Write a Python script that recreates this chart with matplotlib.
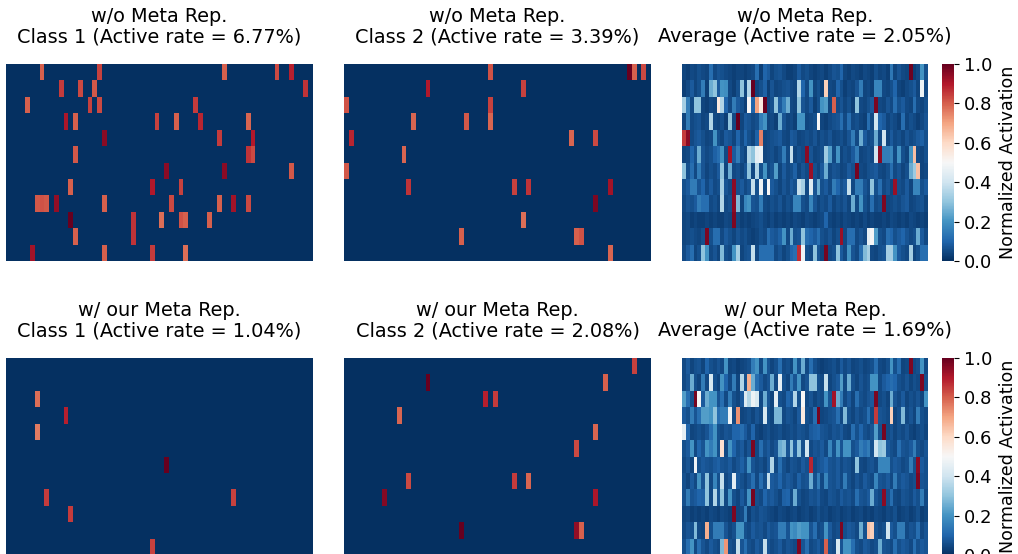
import numpy as np
import matplotlib
matplotlib.use('Agg')
import matplotlib.pyplot as plt
import seaborn as sns

n_rows = 12
n_cols = 64

titles_top = ['w/o Meta Rep.\nClass 1 (Active rate = 6.77%)',
              'w/o Meta Rep.\nClass 2 (Active rate = 3.39%)',
              'w/o Meta Rep.\nAverage (Active rate = 2.05%)']
titles_bot = ['w/ our Meta Rep.\nClass 1 (Active rate = 1.04%)',
              'w/ our Meta Rep.\nClass 2 (Active rate = 2.08%)',
              'w/ our Meta Rep.\nAverage (Active rate = 1.69%)']
cbar_label = 'Normalized Activation'
cbar_ticks = [0.0, 0.2, 0.4, 0.6, 0.8, 1.0]

# active cells only, everything else is 0
c1_top_rows = [0,0,0,0,0, 1,1,1,1, 2,2,2,2, 3,3,3,3,3,3, 4,4,4, 5,5,5, 6,6,6, 7,7,7,
               8,8,8,8,8,8,8,8,8, 9,9,9,9,9,9, 10,10, 11,11,11,11]
c1_top_cols = [7,19,45,56,59, 11,15,18,62, 4,17,19,39, 12,14,31,35,40,50, 20,44,51, 14,50,51, 33,45,59, 13,30,36,
               6,7,8,10,20,34,44,47,50, 13,26,32,36,37,42, 14,26, 5,20,30,37]
c1_top_vals = [.80,.84,.80,.83,.89, .85,.83,.81,.86, .80,.84,.83,.85, .91,.80,.84,.80,.88,.79, .95,.85,.90,
               .81,.86,.83, .95,.95,.81, .80,.90,.84,
               .81,.82,.81,.94,.80,.83,.80,.92,.83, 1.0,.86,.78,.82,.80,.80, .80,.86, .92,.80,.85,.78]

c2_top_rows = [0,0,0,0, 1,1, 2,2, 3,3,3, 4,4,4, 5, 6, 7,7,7,7, 8, 9, 10,10,10, 11]
c2_top_cols = [30,59,60,62, 17,37, 0,30, 14,25,30, 1,47,52, 12, 0, 13,35,38,55, 52, 37, 24,48,49, 55]
c2_top_vals = [.82,1.0,.80,.83, .90,.84, .82,.84, .79,.81,.79, .88,.79,.83, .79, .81,
               .86,.84,.86,.92, .97, .78, .80,.80,.82, .79]

c1_bot_rows = [2,3,4,6,8,8,9,11]
c1_bot_cols = [6,12,6,33,8,47,13,30]
c1_bot_vals = [.78,.89,.76,1.0,.85,.84,.85,.84]

c2_bot_rows = [0, 1,1, 2,2, 3, 4, 5, 7,7,7, 8,8, 10,10,10]
c2_bot_cols = [60, 17,54, 29,31, 11, 52, 48, 13,35,38, 8,52, 24,48,49]
c2_bot_vals = [.84, 1.0,.80, .89,.85, .79, .79, .83, .83,.85,.79, .96,.91, 1.0,.94,.80]

# average panels, percent of the colour range
avg_top = [
    [4,3,5,4,6,5,4,12,5,7,6,5,4,3,4,4,3,4,5,12,3,10,8,4,6,7,5,3,3,4,8,5,
     6,4,3,4,5,3,5,7,6,10,4,3,5,4,3,5,4,3,6,4,5,3,14,4,7,5,4,99,3,5,20,6],
    [3,5,8,4,6,15,3,25,30,8,20,19,5,3,6,30,4,35,100,4,6,9,3,7,4,5,6,7,5,4,35,10,
     5,20,4,6,3,62,5,4,10,6,3,5,4,7,15,4,5,3,17,17,5,4,6,10,4,3,5,6,8,4,47,5],
    [33,15,5,30,30,4,3,5,4,55,35,10,5,15,8,6,3,50,10,70,55,100,4,6,30,8,15,25,5,4,30,7,
     5,8,3,6,20,22,4,80,5,7,4,6,3,30,5,4,6,8,97,5,4,7,5,12,6,8,5,4,12,5,4,6],
    [4,15,5,6,7,4,5,35,5,4,6,3,30,5,100,4,8,7,5,6,15,20,4,5,3,25,7,4,5,3,20,20,
     4,5,6,50,4,3,5,6,7,12,5,12,5,6,4,3,12,5,40,10,8,4,6,5,3,12,4,6,5,3,5,7],
    [85,95,5,7,8,6,4,5,20,6,4,8,7,4,10,5,10,6,4,9,75,4,5,6,7,8,5,4,8,7,4,5,
     6,5,7,4,6,5,7,4,5,6,4,7,15,5,25,8,5,6,25,5,40,4,8,5,6,4,7,5,6,8,9,6],
    [4,5,10,6,25,7,5,6,9,12,20,5,92,8,15,6,4,35,30,45,47,4,5,6,4,6,15,5,38,4,6,5,
     95,7,4,5,6,32,22,5,20,4,6,5,8,15,4,5,6,5,40,95,15,15,17,5,20,6,4,20,65,5,4,6],
    [30,6,12,5,15,7,4,6,5,8,30,4,25,5,6,4,7,30,5,35,6,20,5,7,22,4,8,5,6,9,4,7,
     5,93,6,4,8,25,5,7,6,4,5,8,6,98,5,4,6,7,8,5,4,6,12,5,7,4,6,25,32,65,4,5],
    [6,8,15,15,7,10,5,8,5,6,33,7,5,95,6,8,5,7,38,6,48,5,50,8,6,4,7,5,8,6,38,33,
     5,43,7,25,6,8,5,15,10,6,8,38,5,15,15,7,5,30,6,12,5,7,4,93,6,5,8,4,17,17,6,8],
    [5,7,6,8,15,12,12,5,6,4,35,5,6,95,28,4,17,20,7,6,15,5,4,6,5,7,4,6,5,17,17,6,
     5,17,7,4,6,5,8,4,6,5,7,4,25,5,20,6,4,12,5,6,97,4,5,6,5,7,8,4,5,6,7,4],
    [4,5,3,4,3,3,4,3,4,3,3,5,4,97,5,3,4,3,4,5,6,4,3,5,3,4,3,4,3,5,4,3,
     5,4,3,4,5,10,4,3,4,3,5,4,3,4,3,5,3,4,3,3,4,3,5,4,3,4,3,5,4,3,4,3],
    [4,5,6,5,4,6,97,6,12,12,5,8,6,4,7,5,6,4,3,4,6,5,12,8,7,9,20,5,25,6,7,30,
     12,10,8,12,6,5,7,4,6,93,5,12,12,5,7,5,45,50,22,6,5,12,10,6,8,10,7,5,6,25,8,5],
    [5,8,12,4,6,30,20,5,7,4,28,6,5,20,33,4,6,7,38,5,12,12,12,12,5,7,4,6,10,12,87,48,
     6,5,30,7,4,98,5,6,30,8,5,20,7,5,12,28,33,5,4,6,7,33,33,20,8,6,5,33,4,6,12,12],
]

avg_bot = [
    [5,8,4,6,7,4,10,6,5,7,5,20,4,5,3,4,5,6,15,20,5,20,7,4,6,12,5,6,4,20,6,25,
     5,12,6,4,3,4,5,6,4,8,5,7,4,5,6,4,5,6,12,5,4,6,20,6,12,4,5,97,5,6,20,5],
    [5,7,25,6,4,15,5,42,6,4,20,10,5,15,4,35,6,68,25,12,8,5,7,25,5,45,6,4,15,7,20,5,
     7,30,30,6,5,38,4,6,8,22,5,25,6,4,7,5,6,20,20,5,8,10,12,10,6,5,7,4,6,5,97,6],
    [22,12,6,98,50,8,25,20,20,7,12,5,15,6,4,8,43,35,47,42,5,25,7,4,45,6,5,10,8,35,6,50,
     5,7,4,6,5,20,7,92,25,15,5,8,4,12,6,5,7,8,97,5,6,4,25,7,5,8,4,6,5,7,4,20],
    [8,6,15,7,12,22,22,20,30,12,15,15,47,5,73,4,5,6,4,7,5,42,6,4,27,27,5,7,6,4,8,55,
     6,5,12,98,4,5,6,7,12,5,28,6,4,7,5,6,12,5,85,7,6,5,62,4,6,28,5,7,4,15,6,5],
    [45,10,4,5,6,5,7,12,20,6,5,7,6,10,10,12,8,5,10,4,3,5,6,4,5,6,4,5,6,5,7,6,
     5,8,9,10,7,6,5,7,6,8,5,4,12,6,10,6,5,7,22,6,98,5,7,4,6,5,7,4,3,5,6,4],
    [6,8,20,5,10,7,20,15,20,6,58,5,20,10,6,8,4,7,97,5,12,6,8,5,7,25,28,7,30,8,30,6,
     40,5,7,6,8,5,17,6,20,7,20,20,6,8,15,12,15,6,40,30,32,8,6,5,12,7,6,8,15,6,5,7],
    [5,7,4,48,6,8,7,6,8,9,7,6,8,5,7,9,6,20,7,5,6,4,8,35,5,12,6,4,7,6,5,8,
     6,88,5,7,8,10,7,6,8,5,7,6,4,30,5,4,6,7,5,17,17,17,6,8,7,5,6,15,6,95,8,6],
    [6,4,8,5,20,7,30,5,17,6,38,5,7,45,8,6,4,7,12,5,12,6,38,8,7,10,6,8,7,5,9,6,
     7,25,6,15,5,17,7,6,8,5,15,6,4,7,5,8,6,5,17,7,6,8,5,15,6,8,7,5,6,97,7,6],
    [6,15,7,8,10,9,30,5,35,7,30,5,20,6,4,8,5,20,98,6,5,10,7,8,6,4,9,10,5,25,6,4,
     5,7,6,8,5,4,7,6,5,8,6,7,5,12,7,6,8,25,7,5,95,6,12,5,4,7,6,5,8,6,15,5],
    [4,5,3,4,3,4,3,5,4,3,5,4,3,97,4,5,15,3,6,5,7,6,5,4,3,5,4,3,4,5,3,4,
     5,3,4,6,4,5,3,4,5,3,4,5,3,4,5,3,4,3,5,4,3,5,4,6,3,4,5,3,4,6,3,4],
    [5,7,6,28,5,4,68,6,15,15,15,7,4,6,20,20,6,5,8,6,7,5,8,6,7,15,15,7,20,18,22,20,
     20,7,12,5,6,20,8,5,6,97,6,8,7,5,25,6,65,62,7,5,6,40,8,6,15,15,5,7,6,12,5,7],
    [6,12,20,5,12,7,5,8,6,5,27,72,6,5,38,7,12,6,5,8,6,38,7,5,6,8,5,7,6,5,97,7,
     12,5,6,8,5,80,6,5,42,7,20,20,12,6,5,8,7,5,6,25,7,6,5,12,6,8,7,5,12,6,8,7],
]


def sparse(rows, cols, vals):
    grid = np.zeros((n_rows, n_cols))
    grid[rows, cols] = vals
    return grid


W, H = 1018, 554
fig = plt.figure(figsize=(W/100, H/100), dpi=100)


def px_axes(x0, y0, w, h):
    # pixel box measured from the top left of the picture
    return fig.add_axes([x0/W, 1-(y0+h)/H, w/W, h/H])


def draw(data, title, x0, y0, w, h, cax=None):
    ax = px_axes(x0, y0, w, h)
    sns.heatmap(data, ax=ax, cmap='RdBu_r', vmin=0, vmax=1,
                xticklabels=False, yticklabels=False,
                cbar=cax is not None, cbar_ax=cax,
                cbar_kws=None if cax is None else {'ticks': cbar_ticks})
    ax.set_title(title, fontsize=13.9, pad=15.5, linespacing=1.13)
    if cax is not None:
        cax.tick_params(labelsize=13)
        cax.set_ylabel(cbar_label, fontsize=12.6, labelpad=5)


panel_y = [64, 358]
panel_h = 197

top = [sparse(c1_top_rows, c1_top_cols, c1_top_vals),
       sparse(c2_top_rows, c2_top_cols, c2_top_vals),
       np.array(avg_top)/100]
bot = [sparse(c1_bot_rows, c1_bot_cols, c1_bot_vals),
       sparse(c2_bot_rows, c2_bot_cols, c2_bot_vals),
       np.array(avg_bot)/100]

for y0, grids, titles in [(panel_y[0], top, titles_top), (panel_y[1], bot, titles_bot)]:
    draw(grids[0], titles[0], 6, y0, 307, panel_h)
    draw(grids[1], titles[1], 344, y0, 307, panel_h)
    cax = px_axes(942, y0, 12, panel_h)
    draw(grids[2], titles[2], 682, y0, 246, panel_h, cax=cax)

fig.savefig('out.png', dpi=100)
